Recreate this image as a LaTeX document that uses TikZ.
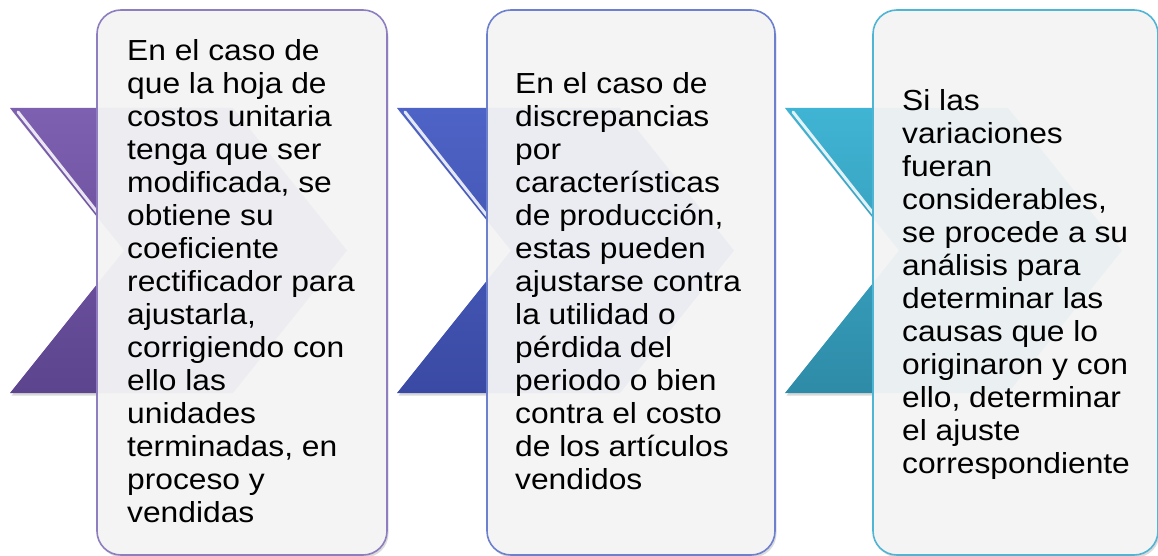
\documentclass[tikz,border=0pt]{standalone}
\usepackage{fontspec}
\setmainfont{Liberation Sans}[FakeStretch=1.095]
\usetikzlibrary{shadows}
\definecolor{purTop}{HTML}{7E60B0}
\definecolor{purBot}{HTML}{5C448E}
\definecolor{purLine}{HTML}{8F7EBF}
\definecolor{bluTop}{HTML}{4E63C6}
\definecolor{bluBot}{HTML}{3A4AA4}
\definecolor{bluLine}{HTML}{6D80CF}
\definecolor{teaTop}{HTML}{40B4D4}
\definecolor{teaBot}{HTML}{2E8BA7}
\definecolor{teaLine}{HTML}{4FB5D4}
\definecolor{cardFill}{HTML}{F4F4F4}
\tikzset{
  chev/.style={drop shadow={opacity=0.3,shadow xshift=1.5pt,shadow yshift=-2.5pt}},
  bevel/.style={white,line width=3pt,opacity=0.85,line cap=round},
  card/.style={rectangle,rounded corners=24pt,line width=1.6pt,fill=cardFill,
    minimum height=545pt,inner sep=0pt,
    drop shadow={opacity=0.28,shadow xshift=1.5pt,shadow yshift=-2.5pt}},
  txt/.style={anchor=west,align=left,inner sep=0pt,text=black,
    font=\fontsize{29}{33}\selectfont},
}
\newcommand{\chevpath}[1]{(#1,108) -- (#1+223,108) -- (#1+337,250.5) -- (#1+223,393) -- (#1,393) -- (#1+114,250.5) -- cycle}
\begin{document}
\begin{tikzpicture}[x=1pt,y=-1pt]
\useasboundingbox[fill=white] (0,0) rectangle (1158,556);
% chevrons
\path[chev,top color=purTop,bottom color=purBot] \chevpath{10};
\draw[bevel] (18,112) -- (124,246);
\path[chev,top color=bluTop,bottom color=bluBot] \chevpath{397};
\draw[bevel] (405,112) -- (511,246);
\path[chev,top color=teaTop,bottom color=teaBot] \chevpath{785};
\draw[bevel] (793,112) -- (899,246);
% cards
\node[card,draw=purLine,minimum width=290pt] (b1) at (242,282.5) {};
\node[card,draw=bluLine,minimum width=288pt] (b2) at (631,282.5) {};
\node[card,draw=teaLine,minimum width=285pt] (b3) at (1015.5,282.5) {};
% ghost chevrons
\begin{scope}
\clip[rounded corners=24pt] (b1.south west) rectangle (b1.north east);
\fill[purTop,opacity=0.05] \chevpath{10};
\end{scope}
\begin{scope}
\clip[rounded corners=24pt] (b2.south west) rectangle (b2.north east);
\fill[bluTop,opacity=0.05] \chevpath{397};
\end{scope}
\begin{scope}
\clip[rounded corners=24pt] (b3.south west) rectangle (b3.north east);
\fill[teaTop,opacity=0.05] \chevpath{785};
\end{scope}
% texts
\node[txt] (t1) at (127,281) {En el caso de\\que la hoja de\\costos unitaria\\tenga que ser\\modificada, se\\obtiene su\\coeficiente\\rectificador para\\ajustarla,\\corrigiendo con\\ello las\\unidades\\terminadas, en\\proceso y\\vendidas};
\node[txt] (t2) at (515,281.5) {En el caso de\\discrepancias\\por\\características\\de producción,\\estas pueden\\ajustarse contra\\la utilidad o\\pérdida del\\periodo o bien\\contra el costo\\de los artículos\\vendidos};
\node[txt] (t3) at (902,284) {Si las\\variaciones\\fueran\\considerables,\\se procede a su\\análisis para\\determinar las\\causas que lo\\originaron y con\\ello, determinar\\el ajuste\\correspondiente};
\end{tikzpicture}
\end{document}
